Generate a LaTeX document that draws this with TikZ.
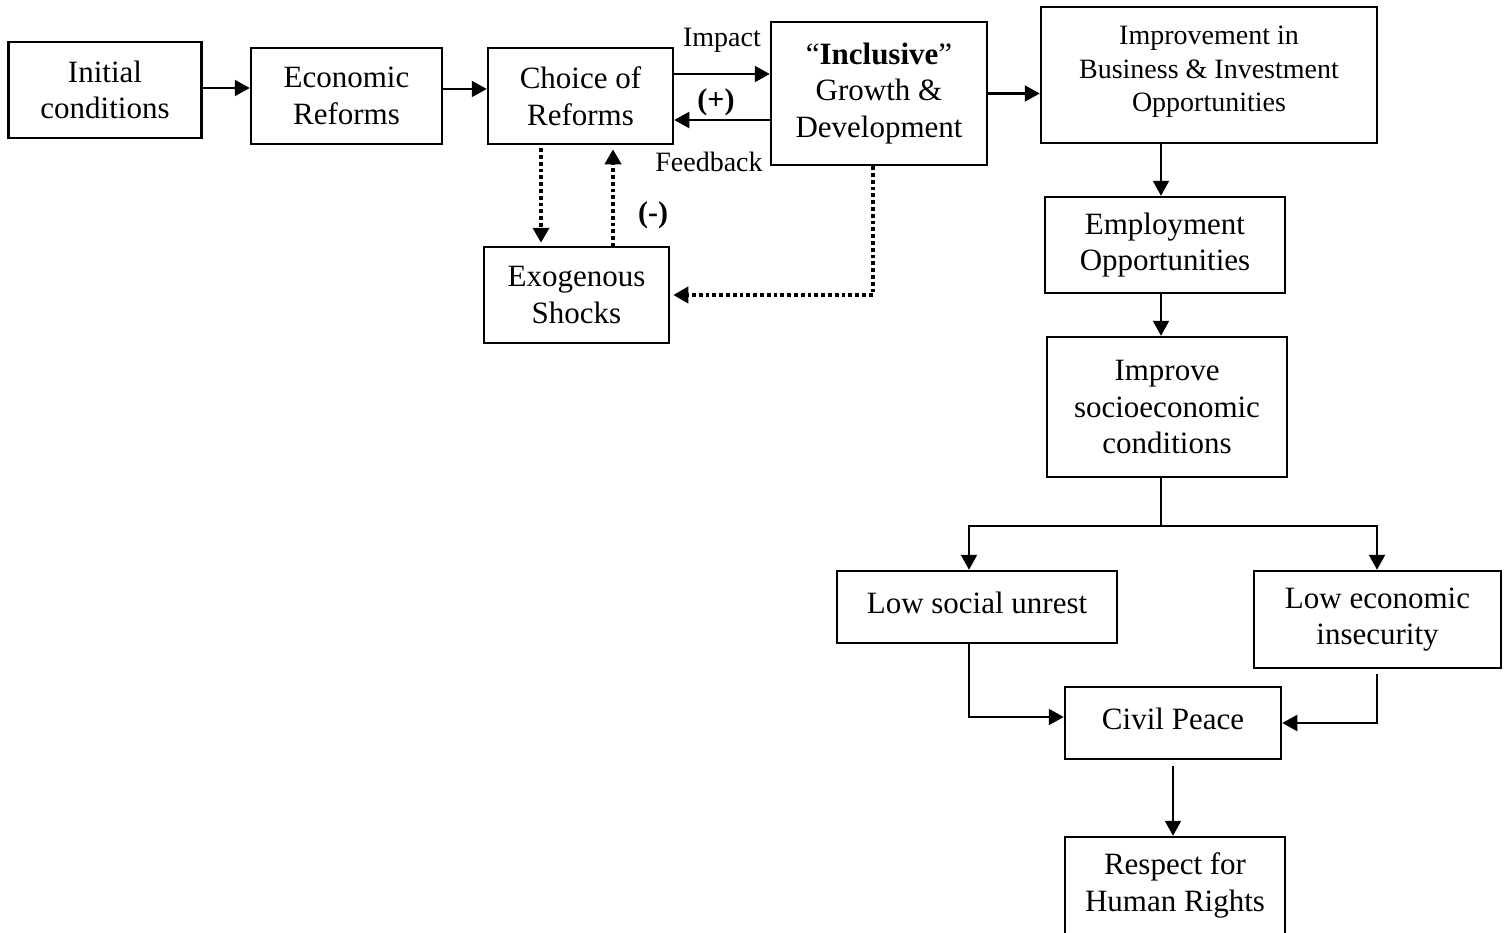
\documentclass[tikz,border=0pt]{standalone}
\usepackage{fontspec}
\setmainfont{Liberation Serif}
\usetikzlibrary{arrows.meta,calc}
\newcommand\mainsz{\fontsize{31pt}{36.5pt}\selectfont}
\newcommand\smallsz{\fontsize{28pt}{33.5pt}\selectfont}
\begin{document}
\begin{tikzpicture}[x=1pt,y=-1pt,
  box/.style={draw, line width=2.5pt, inner sep=0pt, align=center, font=\mainsz},
  arr/.style={line width=2.1pt, -{Triangle[length=15pt,width=16pt]}},
  plain/.style={line width=2.1pt},
  dotarr/.style={line width=3.8pt, dash pattern=on 3.8pt off 3pt, -{Triangle[length=15pt,width=16pt]}},
  lbl/.style={inner sep=0pt, font=\smallsz},
  sgn/.style={inner sep=0pt, font=\fontsize{30pt}{34pt}\selectfont\bfseries}]
\useasboundingbox (0,0) rectangle (1507,932);
\fill[white] (0,0) rectangle (1507,932);

\node[box, minimum width=193pt, minimum height=96pt] (init) at (105,90) {Initial\\conditions};
\node[box, minimum width=191pt, minimum height=96pt] (econ) at (346.5,96) {Economic\\Reforms};
\node[box, minimum width=185pt, minimum height=96pt] (choice) at (580.5,96) {Choice of\\Reforms};
\node[box, minimum width=216pt, minimum height=143pt] (incl) at (879,93.5) {“\textbf{Inclusive}”\\Growth \&\\Development};
\node[box, font=\smallsz, minimum width=336pt, minimum height=136pt, text depth=12pt] (imp) at (1209,75) {Improvement in\\Business \& Investment\\Opportunities};
\node[box, minimum width=240pt, minimum height=96pt] (emp) at (1165,245) {Employment\\Opportunities};
\node[box, minimum width=240pt, minimum height=140pt] (soc) at (1167,407) {Improve\\socioeconomic\\conditions};
\node[box, minimum width=185pt, minimum height=96pt] (exo) at (576.5,295) {Exogenous\\Shocks};
\node[box, minimum width=280pt, minimum height=72pt, text depth=8pt] (lsu) at (977,607) {Low social unrest};
\node[box, minimum width=247pt, minimum height=97pt] (lei) at (1377.5,619.5) {Low economic\\insecurity};
\node[box, minimum width=216pt, minimum height=72pt, text depth=8pt] (cp) at (1173,723) {Civil Peace};
\node[box, minimum width=220pt, minimum height=97pt] (hr) at (1175,885.5) {Respect for\\Human Rights};

\node[lbl] (limp) at (722,40) {Impact};
\node[lbl] (lfb) at (709,162) {Feedback};
\node[sgn] (lplus) at (716,102) {(+)};
\node[sgn] (lminus) at (653,215) {(-)};

\draw[arr] ([yshift=2pt]init.east) coordinate (a1) -- (a1 -| econ.west);
\draw[arr] ([yshift=7pt]econ.east) coordinate (a2) -- (a2 -| choice.west);
\draw[arr] ([yshift=22pt]choice.east) coordinate (a3) -- (a3 -| incl.west);
\coordinate (a4) at ([yshift=-24pt]choice.east);
\draw[arr] (a4 -| incl.west) -- (a4);
\draw[arr] (incl.east) -- (incl.east -| imp.west);

\draw[dotarr, shorten >=3pt] ([xshift=-39.5pt,yshift=-3pt]choice.south) coordinate (d1) -- (d1 |- exo.north);
\draw[dotarr, shorten >=4pt] ([xshift=36.5pt,yshift=-1pt]exo.north) coordinate (d2) -- (d2 |- choice.south);
\draw[dotarr, shorten >=3pt] ([xshift=-6pt]incl.south) |- (exo.east);

\coordinate (sp) at (1161,526);
\coordinate (bl) at (969,526);
\coordinate (brr) at (1377,526);
\draw[arr] (imp.south -| sp) -- (emp.north -| sp);
\draw[arr] (emp.south -| sp) -- (soc.north -| sp);
\draw[plain] (soc.south -| sp) -- (sp);
\draw[arr] (sp) -| (bl |- lsu.north);
\draw[arr] (sp) -| (brr |- lei.north);
\draw[arr] (bl |- lsu.south) |- ([yshift=6pt]cp.west);
\draw[arr] ([yshift=-5pt]brr |- lei.south) |- (cp.east);
\draw[arr] ([yshift=-6pt]cp.south) coordinate (c1) -- (c1 |- hr.north);
\end{tikzpicture}
\end{document}
